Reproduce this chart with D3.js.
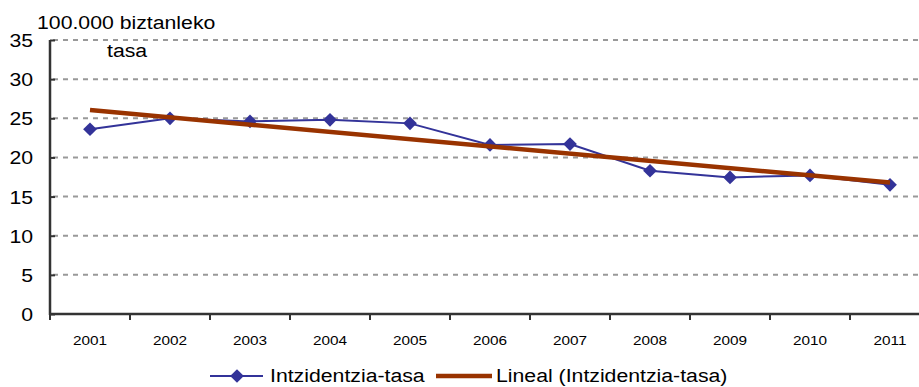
<!DOCTYPE html>
<html>
<head>
<meta charset="utf-8">
<script src="https://cdn.jsdelivr.net/npm/d3@7"></script>
<style>
  html, body { margin: 0; padding: 0; background: #fff; }
  svg { display: block; font-family: Arial, "Liberation Sans", sans-serif; }
</style>
</head>
<body>
<svg id="chart" width="919" height="387"></svg>
<script>
(function () {
// Incidence rate per 100,000 inhabitants, 2001-2011
const years = ["2001","2002","2003","2004","2005","2006","2007","2008","2009","2010","2011"];
const rates = [23.6, 25.0, 24.6, 24.8, 24.35, 21.6, 21.7, 18.3, 17.45, 17.7, 16.5];
const yTicks = [0, 5, 10, 15, 20, 25, 30, 35];
const seriesName = "Intzidentzia-tasa";
const trendName = "Lineal (Intzidentzia-tasa)";

const FONT = "Arial, 'Liberation Sans', sans-serif";
const WIDEN = 1.18; // the typeface is set slightly wide

const svg = d3.select("#chart");
const plotLeft = 50, plotRight = 930, plotTop = 40, plotBottom = 314;

const x = d3.scaleBand().domain(years).range([plotLeft, plotRight]);
const y = d3.scaleLinear().domain([0, 35]).range([plotBottom, plotTop]);

// stretch a text selection horizontally by WIDEN
function widen(sel) {
  sel.each(function () {
    const w = this.getComputedTextLength();
    d3.select(this).attr("textLength", w * WIDEN).attr("lengthAdjust", "spacingAndGlyphs");
  });
}

// Horizontal dashed gridlines
svg.append("g").selectAll("line").data(yTicks.filter(d => d > 0)).join("line")
  .attr("x1", plotLeft + 3).attr("x2", 919)
  .attr("y1", d => y(d)).attr("y2", d => y(d))
  .attr("stroke", "#999").attr("stroke-width", 2).attr("stroke-dasharray", "5,5");

// Y axis, ticks pointing into the plot
const yAxis = svg.append("g").attr("transform", `translate(${plotLeft},0)`)
  .call(d3.axisLeft(y).tickValues(yTicks).tickSize(-5).tickPadding(17));
yAxis.select(".domain").attr("stroke", "#333").attr("stroke-width", 2.5).attr("d", `M0,${plotBottom + 1}V${plotTop}`);
yAxis.selectAll(".tick line").attr("stroke", "#333").attr("stroke-width", 2);
yAxis.selectAll(".tick text").attr("font-size", 18).attr("fill", "#000")
  .attr("font-family", FONT).attr("dy", "0.36em").call(widen);

// X axis with ticks at band boundaries
const xAxis = svg.append("g").attr("transform", `translate(0,${plotBottom})`);
xAxis.append("line").attr("x1", plotLeft - 1).attr("x2", 919).attr("y1", 0).attr("y2", 0)
  .attr("stroke", "#333").attr("stroke-width", 2.5);
xAxis.selectAll("line.tk").data(years).join("line").attr("class", "tk")
  .attr("x1", d => x(d)).attr("x2", d => x(d)).attr("y1", 0).attr("y2", 6)
  .attr("stroke", "#333").attr("stroke-width", 2);
xAxis.selectAll("text").data(years).join("text")
  .attr("x", d => x(d) + x.bandwidth() / 2).attr("y", 31)
  .attr("text-anchor", "middle").attr("font-size", 13).attr("fill", "#000")
  .text(d => d).call(widen);

// Axis title
svg.append("text").attr("x", 37).attr("y", 29).attr("font-size", 18).text("100.000 biztanleko").call(widen);
svg.append("text").attr("x", 107).attr("y", 57).attr("font-size", 18).text("tasa").call(widen);

const cx = d => x(d) + x.bandwidth() / 2;

// Least-squares linear trend through the yearly rates
const n = rates.length;
const idx = d3.range(1, n + 1);
const mx = d3.mean(idx), my = d3.mean(rates);
const slope = d3.sum(idx, (v, i) => (v - mx) * (rates[i] - my)) / d3.sum(idx, v => (v - mx) ** 2);
const intercept = my - slope * mx;
const trend = [
  { year: years[0], v: intercept + slope * 1 },
  { year: years[n - 1], v: intercept + slope * n }
];

// Data series line
svg.append("path").datum(rates)
  .attr("fill", "none").attr("stroke", "#333399").attr("stroke-width", 2)
  .attr("d", d3.line().x((d, i) => cx(years[i])).y(d => y(d)));

// Diamond markers
const diamond = d3.symbol().type(d3.symbolDiamond2).size(120);
svg.append("g").selectAll("path").data(rates).join("path")
  .attr("transform", (d, i) => `translate(${cx(years[i])},${y(d)})`)
  .attr("d", diamond).attr("fill", "#333399");

// Trend line
svg.append("path").datum(trend)
  .attr("fill", "none").attr("stroke", "#993300").attr("stroke-width", 4.5)
  .attr("d", d3.line().x(d => cx(d.year)).y(d => y(d.v)));

// Legend
const ly = 376;
const lg = svg.append("g");
lg.append("line").attr("x1", 210).attr("x2", 263).attr("y1", ly).attr("y2", ly)
  .attr("stroke", "#333399").attr("stroke-width", 2);
lg.append("path").attr("transform", `translate(237,${ly})`).attr("d", diamond).attr("fill", "#333399");
lg.append("text").attr("x", 270).attr("y", 382).attr("font-size", 18).text(seriesName).call(widen);
lg.append("line").attr("x1", 436).attr("x2", 492).attr("y1", ly).attr("y2", ly)
  .attr("stroke", "#993300").attr("stroke-width", 4.5);
lg.append("text").attr("x", 496).attr("y", 382).attr("font-size", 18).text(trendName).call(widen);
})();
</script>
</body>
</html>
